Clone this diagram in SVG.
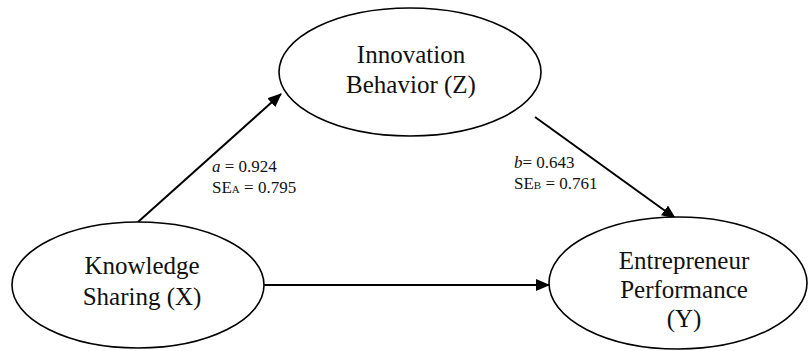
<svg xmlns="http://www.w3.org/2000/svg" width="809" height="351" viewBox="0 0 809 351">
<style>
.node{fill:#fff;stroke:#000;stroke-width:1.6}
.t{font-family:"Liberation Serif","Times New Roman",serif;font-size:25px;fill:#111;text-anchor:middle}
.lbl{font-family:"Liberation Serif","Times New Roman",serif;font-size:17px;fill:#111}
.edge{stroke:#000;stroke-width:2;fill:none}
</style>
<defs>
<marker id="ah" markerUnits="userSpaceOnUse" markerWidth="14" markerHeight="12" refX="13" refY="6" orient="auto">
<path d="M0,0 L14,6 L0,12 Z" fill="#000"/>
</marker>
</defs>
<rect width="809" height="351" fill="#fff"/>
<g id="connectors">
<line class="edge" x1="138" y1="222" x2="281" y2="94" marker-end="url(#ah)"/>
<line class="edge" x1="535" y1="117" x2="675" y2="218" marker-end="url(#ah)"/>
<line class="edge" x1="264" y1="285" x2="549" y2="285" marker-end="url(#ah)"/>
</g>
<g id="node-z">
<ellipse class="node" cx="410" cy="72" rx="131" ry="64"/>
<text class="t" x="411" y="63">Innovation</text>
<text class="t" x="411" y="93">Behavior (Z)</text>
</g>
<g id="node-x">
<ellipse class="node" cx="138" cy="285" rx="126" ry="63"/>
<text class="t" x="142" y="274">Knowledge</text>
<text class="t" x="142" y="305">Sharing (X)</text>
</g>
<g id="node-y">
<ellipse class="node" cx="678" cy="283" rx="129" ry="66"/>
<text class="t" x="684" y="269">Entrepreneur</text>
<text class="t" x="684" y="298">Performance</text>
<text class="t" x="684" y="327">(Y)</text>
</g>
<g id="labels">
<text class="lbl" x="212" y="172"><tspan font-style="italic">a</tspan> = 0.924</text>
<text class="lbl" x="212" y="193">SE<tspan font-size="11">A</tspan> = 0.795</text>
<text class="lbl" x="514" y="168"><tspan font-style="italic">b</tspan>= 0.643</text>
<text class="lbl" x="514" y="189">SE<tspan font-size="11">B</tspan> = 0.761</text>
</g>
</svg>
